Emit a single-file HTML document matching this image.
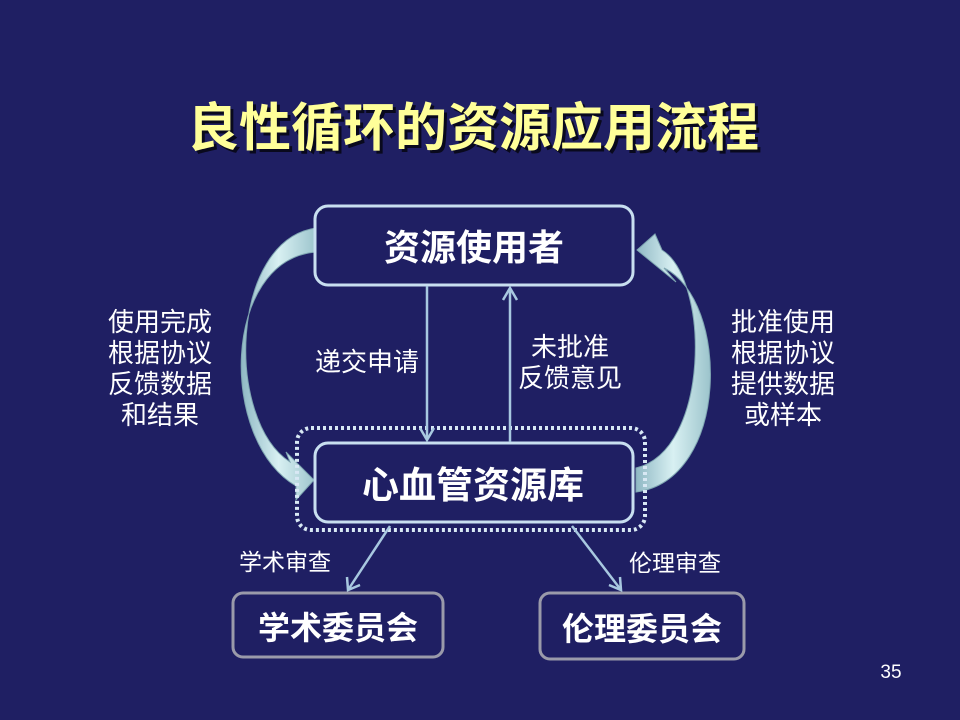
<!DOCTYPE html>
<html><head><meta charset="utf-8"><style>
body{margin:0;width:960px;height:720px;background:#1f1f63;overflow:hidden;font-family:"Liberation Sans","Noto Sans CJK SC",sans-serif;}
</style></head><body>
<svg width="960" height="720" viewBox="0 0 960 720" style="position:absolute;left:0;top:0">
<defs>
<linearGradient id="g" x1="0" y1="0" x2="1" y2="0"><stop offset="0" stop-color="#8fb8c4"/><stop offset="0.5" stop-color="#d8f0f2"/><stop offset="1" stop-color="#9cc4cc"/></linearGradient>
</defs>
<rect width="960" height="720" fill="#1f1f63"/>
<text x="476" y="149" text-anchor="middle" font-size="52" font-weight="bold" fill="#000" opacity="0.7" font-family="Liberation Sans,Noto Sans CJK SC,sans-serif">良性循环的资源应用流程</text>
<text x="473" y="146" text-anchor="middle" font-size="52" font-weight="bold" fill="#ffff99" font-family="Liberation Sans,Noto Sans CJK SC,sans-serif">良性循环的资源应用流程</text>
<path d="M316,228 C230,240 225,420 290,462 L286,452 L314,480 L296,500 L296,486 C218,440 222,260 316,252 Z" fill="url(#g)" stroke="#7fa6b2" stroke-width="1"/>
<path d="M636,492 C730,480 730,300 664,268 L676,282 L637,250 L655,234 L662,250 C710,280 710,450 636,468 Z" fill="url(#g)" stroke="#7fa6b2" stroke-width="1"/>
<rect x="315" y="206" width="318" height="79" rx="13" fill="#1f1f63" stroke="#c8dff0" stroke-width="3"/>
<rect x="297" y="428" width="348" height="102" rx="14" fill="none" stroke="#d8e8f4" stroke-width="4" stroke-dasharray="3,3"/>
<rect x="315" y="443" width="318" height="79" rx="13" fill="#1f1f63" stroke="#c8dff0" stroke-width="3"/>
<rect x="233" y="593" width="210" height="64" rx="10" fill="#1f1f63" stroke="#9a9aaa" stroke-width="3"/>
<rect x="540" y="593" width="204" height="66" rx="10" fill="#1f1f63" stroke="#9a9aaa" stroke-width="3"/>
<g stroke="#a8c8e0" stroke-width="2.5" fill="none">
<line x1="427" y1="286" x2="427" y2="440"/><polyline points="420,428 427,440 434,428"/>
<line x1="510" y1="442" x2="510" y2="288"/><polyline points="503,300 510,288 517,300"/>
<line x1="390" y1="526" x2="348" y2="590"/><polyline points="347,577 348,590 360,585"/>
<line x1="572" y1="526" x2="621" y2="590"/><polyline points="609,585 621,590 620,577"/>
</g>
<g fill="#fff" font-family="Liberation Sans,Noto Sans CJK SC,sans-serif">
<text x="474" y="260" text-anchor="middle" font-size="36" font-weight="bold">资源使用者</text>
<text x="473" y="498" text-anchor="middle" font-size="37" font-weight="bold">心血管资源库</text>
<text x="338" y="639" text-anchor="middle" font-size="32" font-weight="bold">学术委员会</text>
<text x="642" y="640" text-anchor="middle" font-size="32" font-weight="bold">伦理委员会</text>
<g font-size="26">
<text x="367" y="371" text-anchor="middle">递交申请</text>
<text x="570" y="356" text-anchor="middle">未批准</text>
<text x="570" y="387" text-anchor="middle">反馈意见</text>
<text x="160" y="331" text-anchor="middle">使用完成</text>
<text x="160" y="362" text-anchor="middle">根据协议</text>
<text x="160" y="393" text-anchor="middle">反馈数据</text>
<text x="160" y="424" text-anchor="middle">和结果</text>
<text x="783" y="331" text-anchor="middle">批准使用</text>
<text x="783" y="362" text-anchor="middle">根据协议</text>
<text x="783" y="393" text-anchor="middle">提供数据</text>
<text x="783" y="424" text-anchor="middle">或样本</text>
</g>
<text x="285" y="570" text-anchor="middle" font-size="23">学术审查</text>
<text x="675" y="571" text-anchor="middle" font-size="23">伦理审查</text>
<text x="891" y="678" text-anchor="middle" font-size="19">35</text>
</g>
</svg>
</body></html>
